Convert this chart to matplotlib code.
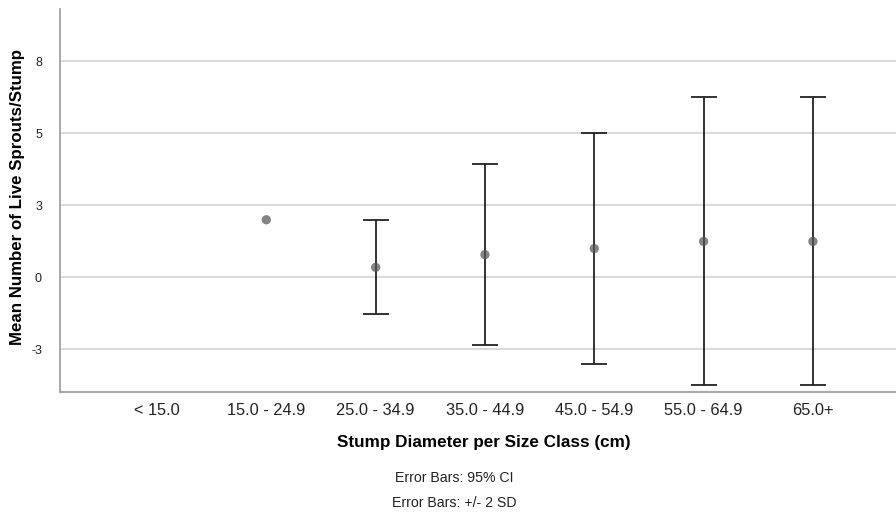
import numpy as np
import matplotlib.pyplot as plt
from matplotlib.ticker import FixedLocator, FixedFormatter

# Stump size classes and the mean / error bar limits
size_classes = ["< 15.0", "15.0 - 24.9", "25.0 - 34.9", "35.0 - 44.9",
                "45.0 - 54.9", "55.0 - 64.9", "65.0+"]
mean_sprouts = [np.nan, 2.0, 0.35, 0.79, 1.0, 1.25, 1.25]
lower_limit = [np.nan, np.nan, -1.28, -2.35, -3.0, -3.73, -3.73]
upper_limit = [np.nan, np.nan, 1.98, 3.93, 5.0, 6.25, 6.25]

y_ticks = [-2.5, 0.0, 2.5, 5.0, 7.5]
y_tick_labels = ["-3", "0", "3", "5", "8"]

plt.rcParams['font.family'] = ['Liberation Sans', 'DejaVu Sans']

fig = plt.figure(figsize=(8.96, 5.18), dpi=100)
ax = fig.add_axes([0.067, 0.243, 0.933, 0.74])

x = np.arange(len(size_classes))
means = np.array(mean_sprouts)
lo = np.array(lower_limit)
hi = np.array(upper_limit)

# error bars first (only where limits exist)
has_bar = ~np.isnan(lo)
ax.errorbar(x[has_bar], means[has_bar],
            yerr=[means[has_bar] - lo[has_bar], hi[has_bar] - means[has_bar]],
            fmt='none', ecolor='#222222', elinewidth=1.3, capsize=9.5,
            capthick=1.3, zorder=3)

# mean markers
ax.scatter(x, means, s=45, color='#555555', alpha=0.72, edgecolors='none', zorder=4)

ax.set_xlim(-0.887, 6.76)
ax.set_ylim(-3.98, 9.32)

ax.set_xticks(x)
ax.set_xticklabels(size_classes, fontsize=11.8, color='#222222')
ax.yaxis.set_major_locator(FixedLocator(y_ticks))
ax.yaxis.set_major_formatter(FixedFormatter(y_tick_labels))
ax.tick_params(axis='y', length=0, pad=13, labelsize=9, colors='#222222')
ax.tick_params(axis='x', length=0, pad=8)

ax.grid(axis='y', color='#d0d0d0', linewidth=1.1)
ax.set_axisbelow(True)

for side in ['top', 'right']:
    ax.spines[side].set_visible(False)
ax.spines['left'].set_color('#999999')
ax.spines['left'].set_linewidth(1.2)
ax.spines['bottom'].set_color('#aaaaaa')
ax.spines['bottom'].set_linewidth(1.6)

# axis titles
fig.text(18 / 896, 1 - 197 / 518, "Mean Number of Live Sprouts/Stump",
         rotation=90, ha='center', va='center', fontsize=12.2, fontweight='bold')
fig.text(484 / 896, 1 - 443 / 518, "Stump Diameter per Size Class (cm)",
         ha='center', va='center', fontsize=12.3, fontweight='bold')

# notes under the plot
fig.text(454 / 896, 1 - 478 / 518, "Error Bars: 95% CI",
         ha='center', va='center', fontsize=10.2, color='#222222')
fig.text(454 / 896, 1 - 503 / 518, "Error Bars: +/- 2 SD",
         ha='center', va='center', fontsize=10.2, color='#222222')

fig.savefig("out.png", dpi=100)
